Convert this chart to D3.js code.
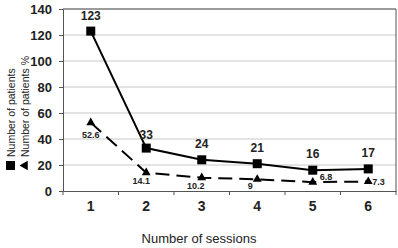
<!DOCTYPE html>
<html>
<head>
<meta charset="utf-8">
<script src="https://cdn.jsdelivr.net/npm/d3@7"></script>
<style>
body { margin: 0; background: white; }
svg { font-family: Arial, "Liberation Sans", sans-serif; }
</style>
</head>
<body>
<div id="chart"></div>
<script>
const Sessions = ['1', '2', '3', '4', '5', '6'];
const Patients = [123, 33, 24, 21, 16, 17];
const PatientsPct = [52.6, 14.1, 10.2, 9, 6.8, 7.3];
const YTicks = [0, 20, 40, 60, 80, 100, 120, 140];

const Width = 398, Height = 248;
const Margin = { top: 9, right: 2, bottom: 57, left: 63 };
const InnerW = Width - Margin.left - Margin.right;
const InnerH = Height - Margin.top - Margin.bottom;

const Svg = d3.select('#chart').append('svg')
              .attr('width', Width)
              .attr('height', Height);
const G = Svg.append('g').attr('transform', `translate(${Margin.left},${Margin.top})`);

const xScale = d3.scaleBand().domain(Sessions).range([0, InnerW]);
const yScale = d3.scaleLinear().domain([0, 140]).range([InnerH, 0]);
const cx = d => xScale(d) + xScale.bandwidth() / 2;

// gridlines
G.selectAll('line.grid')
 .data(YTicks.slice(1))
 .enter().append('line')
 .attr('x1', 0).attr('x2', InnerW)
 .attr('y1', d => yScale(d)).attr('y2', d => yScale(d))
 .attr('stroke', '#c8c8c8').attr('stroke-width', 1);

// frame top + right
G.append('path')
 .attr('d', `M0,${yScale(140)}H${InnerW}V${InnerH}`)
 .attr('fill', 'none').attr('stroke', '#555').attr('stroke-width', 1);

// y axis
const yAxis = G.append('g')
               .call(d3.axisLeft(yScale).tickValues(YTicks).tickSize(4).tickSizeOuter(0));
yAxis.select('.domain').attr('stroke', '#555');
yAxis.selectAll('.tick line').attr('stroke', '#555');
yAxis.selectAll('text').attr('font-size', 13).attr('font-weight', 'bold').attr('fill', '#222').attr('x', -11);

// x axis
const xAxis = G.append('g').attr('transform', `translate(0,${InnerH})`)
               .call(d3.axisBottom(xScale).tickSize(0).tickSizeOuter(0));
xAxis.select('.domain').attr('stroke', '#555');
xAxis.selectAll('text').attr('font-size', 14).attr('font-weight', 'bold').attr('fill', '#222').attr('y', 10);
G.selectAll('line.xtick')
 .data(d3.range(Sessions.length + 1))
 .enter().append('line')
 .attr('x1', i => i * xScale.step()).attr('x2', i => i * xScale.step())
 .attr('y1', InnerH).attr('y2', InnerH + 4)
 .attr('stroke', '#555');

// lines
const linePatients = d3.line().x((d, i) => cx(Sessions[i])).y(d => yScale(d));
G.append('path').datum(Patients)
 .attr('d', linePatients)
 .attr('fill', 'none').attr('stroke', '#000').attr('stroke-width', 2);
G.append('path').datum(PatientsPct)
 .attr('d', linePatients)
 .attr('fill', 'none').attr('stroke', '#000').attr('stroke-width', 2)
 .attr('stroke-dasharray', '14,7');

// markers
G.selectAll('rect.pt')
 .data(Patients)
 .enter().append('rect')
 .attr('x', (d, i) => cx(Sessions[i]) - 4.5)
 .attr('y', d => yScale(d) - 4.5)
 .attr('width', 9).attr('height', 9)
 .attr('fill', '#000');
const tri = d3.symbol().type(d3.symbolTriangle).size(34);
G.selectAll('path.tri')
 .data(PatientsPct)
 .enter().append('path')
 .attr('d', tri)
 .attr('transform', (d, i) => `translate(${cx(Sessions[i])},${yScale(d)})`)
 .attr('fill', '#000');

// labels
const PatOffset = [[0, -11], [0, -9], [0, -12], [0, -12], [0, -12], [0, -12]];
G.selectAll('text.plab')
 .data(Patients)
 .enter().append('text')
 .attr('x', (d, i) => cx(Sessions[i]) + PatOffset[i][0])
 .attr('y', (d, i) => yScale(d) + PatOffset[i][1])
 .attr('text-anchor', 'middle')
 .attr('font-size', 12).attr('font-weight', 'bold').attr('fill', '#222')
 .text(d => d);
const PctOffset = [[0, 15, 'middle'], [-5, 11, 'middle'], [-6, 11, 'middle'], [-7, 10, 'middle'], [7, -2, 'start'], [4, 3, 'start']];
G.selectAll('text.pctlab')
 .data(PatientsPct)
 .enter().append('text')
 .attr('x', (d, i) => cx(Sessions[i]) + PctOffset[i][0])
 .attr('y', (d, i) => yScale(d) + PctOffset[i][1])
 .attr('text-anchor', (d, i) => PctOffset[i][2])
 .attr('font-size', 9).attr('font-weight', 'bold').attr('fill', '#222')
 .text(d => d);

// x title
Svg.append('text')
   .attr('x', 199).attr('y', 243)
   .attr('text-anchor', 'middle')
   .attr('font-size', 13).attr('fill', '#222')
   .text('Number of sessions');

// rotated legend as y title
const Leg = Svg.append('g').attr('transform', 'translate(0,170) rotate(-90)');
Leg.append('rect').attr('x', 0).attr('y', 6).attr('width', 9).attr('height', 9).attr('fill', '#000');
Leg.append('text').attr('x', 13).attr('y', 15).attr('font-size', 10.5).attr('fill', '#222').text('Number of patients');
Leg.append('path').attr('d', d3.symbol().type(d3.symbolTriangle).size(40)).attr('transform', 'translate(4.5,25)').attr('fill', '#000');
Leg.append('text').attr('x', 13).attr('y', 29).attr('font-size', 10.5).attr('fill', '#222').text('Number of patients %');
</script>
</body>
</html>
